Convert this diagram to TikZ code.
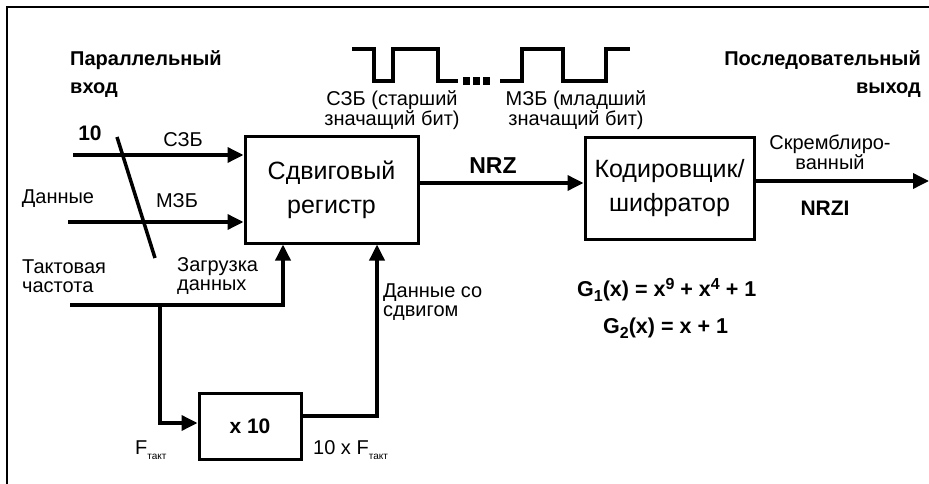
\documentclass[tikz,border=0pt]{standalone}
\usepackage{fontspec}
\setmainfont{Liberation Sans}
\usetikzlibrary{arrows.meta}
\newcommand{\subtakt}{\raisebox{-5pt}{\fontsize{10}{10}\selectfont такт}}
\newcommand{\lo}[1]{\raisebox{-5pt}{\fontsize{16}{16}\selectfont #1}}
\newcommand{\hi}[1]{\raisebox{7.5pt}{\fontsize{16}{16}\selectfont #1}}
\begin{document}
\begin{tikzpicture}[x=1pt,y=-1pt,
  lbl/.style={inner sep=0pt, font=\fontsize{20}{18.5}\selectfont},
  blbl/.style={inner sep=0pt, font=\fontsize{20}{28}\selectfont\bfseries},
  blk/.style={draw, line width=3pt, inner sep=0pt, font=\fontsize{25}{34}\selectfont, align=center},
  wire/.style={line width=3.5pt},
  arr/.style={wire, -{Triangle[length=16pt,width=15pt]}},
  wave/.style={line width=4pt, line join=miter},
  dotsq/.style={fill, minimum width=7pt, minimum height=8pt, inner sep=0pt},
]
\useasboundingbox (0,0) rectangle (929,484);
\draw[line width=1.5pt] (7,484) -- (7,7) -- (929,7);

% blocks
\node[blk, minimum width=173pt, minimum height=106pt] (sr) at (331.5,190) {Сдвиговый\\регистр};
\node[blk, minimum width=169pt, minimum height=101pt] (enc) at (669.5,188.5) {Кодировщик/\\шифратор};
\node[blk, minimum width=102pt, minimum height=66pt, font=\fontsize{21}{24}\selectfont\bfseries] (x10) at (250,426) {x 10};

% headings
\node[blbl, anchor=west, align=left] (pin) at (70,74) {Параллельный\\вход};
\node[blbl, anchor=east, align=right] (sout) at (921,74) {Последовательный\\выход};

% input labels
\node[blbl, font=\fontsize{21}{21}\selectfont\bfseries] (ten) at (90,133) {10};
\node[lbl] (msb) at (183,140) {СЗБ};
\node[lbl] (data) at (58,199) {Данные};
\node[lbl] (lsb) at (177,201) {МЗБ};
\node[lbl, anchor=west, align=left] (clklbl) at (22,276) {Тактовая\\частота};
\node[lbl, anchor=west, align=left] (loadlbl) at (177,276) {Загрузка\\данных};
\node[lbl, anchor=west, align=left] (shiftlbl) at (383,302) {Данные со\\сдвигом};
\node[lbl, anchor=west] (ftakt) at (135,450) {F\subtakt};
\node[lbl, anchor=west] (tenf) at (313,450) {10 x F\subtakt};

% NRZ / output labels
\node[blbl, font=\fontsize{23}{23}\selectfont\bfseries] (nrz) at (493,166) {NRZ};
\node[lbl, align=center] (scr) at (830,152) {Скремблиро-\\ванный};
\node[blbl, font=\fontsize{21}{21}\selectfont\bfseries] (nrzi) at (825,208) {NRZI};
\node[blbl, anchor=west, font=\fontsize{21.5}{21.5}\selectfont\bfseries] (g1) at (577,290) {G\lo{1}(x) = x\hi{9} + x\hi{4} + 1};
\node[blbl, anchor=west, font=\fontsize{21.5}{21.5}\selectfont\bfseries] (g2) at (603,328) {G\lo{2}(x) = x + 1};

% waveform labels
\node[lbl, align=center] (msbw) at (392,110) {СЗБ (старший\\значащий бит)};
\node[lbl, align=center] (lsbw) at (576,110) {МЗБ (младший\\значащий бит)};

% waveform
\draw[wave] (352,49) -- (374,49) -- (374,81) -- (393,81) -- (393,49) -- (438,49) -- (438,81) -- (458,81);
\node[dotsq] (d1) at (466.5,81) {};
\node[dotsq] (d2) at (476.5,81) {};
\node[dotsq] (d3) at (486.5,81) {};
\draw[wave] (500,81) -- (522,81) -- (522,49) -- (563,49) -- (563,81) -- (606,81) -- (606,49) -- (630,49);

% coordinates
\coordinate (in1) at (73,155);
\coordinate (in2) at (68,222);
\coordinate (s1) at (117,137);
\coordinate (s2) at (155,258);
\coordinate (clk) at (70,305);
\coordinate (jn) at (160,305);
\coordinate (ld) at (283,305);
\coordinate (jd) at (160,423);
\coordinate (sh) at (377,416);
\coordinate (nrzA) at (418,183);
\coordinate (outE) at (929,181);

% connectors
\draw[arr] (in1) -- (in1 -| sr.west);
\draw[arr] (in2) -- (in2 -| sr.west);
\draw[wire] (s1) -- (s2);
\draw[arr] (clk) -- (ld) -- (ld |- sr.south);
\draw[arr] (jn) -- (jd) -- (jd -| x10.west);
\draw[arr] (x10.east |- sh) -- (sh) -- (sh |- sr.south);
\draw[arr] (nrzA) -- (nrzA -| enc.west);
\draw[arr] (outE -| enc.east) -- (outE);
\end{tikzpicture}
\end{document}
